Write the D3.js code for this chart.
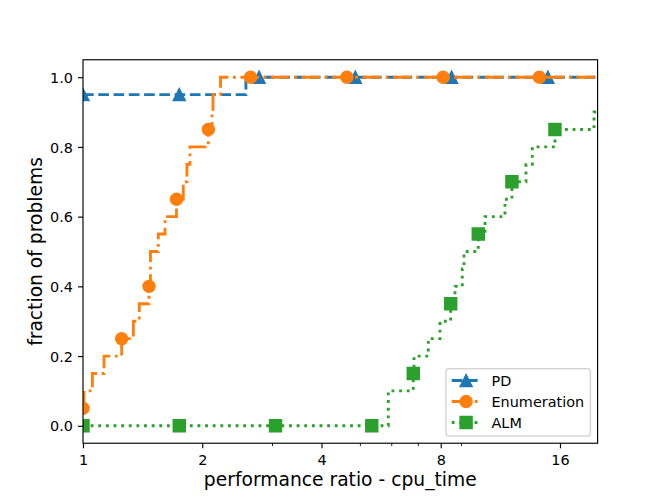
<!DOCTYPE html>
<html>
<head>
<meta charset="utf-8">
<script src="https://cdn.jsdelivr.net/npm/d3@7"></script>
<style>
  body { margin: 0; background: #fff; }
  svg { display: block; }
</style>
</head>
<body>
<script>
// solver names and the performance ratio of each of the 20 problems
var solvers = ["PD", "Enumeration", "ALM"];
var ratiosPD = [1, 1, 1, 1, 1, 1, 1, 1, 1, 1, 1, 1, 1, 1, 1, 1, 1, 1, 1, 2.578];
var ratiosEnum = [1, 1.006, 1.056, 1.130, 1.252, 1.340, 1.387, 1.468, 1.480, 1.480,
                  1.549, 1.611, 1.722, 1.791, 1.830, 1.862, 2.072, 2.117, 2.129, 2.224];
var ratiosALM = [5.898, 5.898, 6.820, 6.848, 7.441, 7.965, 8.476, 8.690, 9.067, 9.158,
                 9.951, 10.346, 11.62, 12.10, 13.13, 13.62, 15.54, 19.50, Infinity, Infinity];
var tauMax = 19.91;

// axis ticks
var xTicks = [1, 2, 4, 8, 16];
var xMinorTicks = [3, 5, 6, 7, 9];
var yTicks = [0, 0.2, 0.4, 0.6, 0.8, 1.0];

// styles (matplotlib look at ~104 dpi)
var colors = {PD: "#1f77b4", Enumeration: "#ff7f0e", ALM: "#2ca02c"};
var dashes = {PD: "10.66,4.61", Enumeration: "18.44,4.61,2.88,4.61", ALM: "2.88,4.75"};
var shapes = {PD: "triangle", Enumeration: "circle", ALM: "square"};
var ratios = {PD: ratiosPD, Enumeration: ratiosEnum, ALM: ratiosALM};

var W = 664, H = 498;
var L = 83, R = 597.6, T = 59.76, B = 443.22;
var font = "'DejaVu Sans', sans-serif";
var lw = 2.88, msize = 12, mew = 1.44;

var x = d3.scaleLog().base(2).domain([1, tauMax]).range([L, R]);
var y = d3.scaleLinear().domain([-0.05, 1.05]).range([B, T]);

var svg = d3.select("body")
	.append("svg")
	.attr("width", W)
	.attr("height", H);

svg.append("rect").attr("width", W).attr("height", H).attr("fill", "#fff");

svg.append("clipPath")
	.attr("id", "plotclip")
	.append("rect")
	.attr("x", L).attr("y", T)
	.attr("width", R - L).attr("height", B - T);

// profile: fraction of problems with ratio <= tau, as step points
function profile(rs) {
	var n = rs.length;
	var s = rs.slice().sort(d3.ascending);
	var pts = [[1, s.filter(function(r){ return r <= 1; }).length / n]];
	var uniq = Array.from(new Set(s.filter(function(r){ return r > 1 && r <= tauMax; })));
	uniq.forEach(function(r){
		pts.push([r, s.filter(function(v){ return v <= r; }).length / n]);
	});
	pts.push([tauMax, pts[pts.length - 1][1]]);
	return pts;
}

// markers evenly spaced along the drawn line (like markevery=0.15)
function markerSpots(pts) {
	var step = 0.15 * Math.hypot(R - L, B - T);
	var g = 1;
	var p = pts.map(function(d){ return [x(d[0]), y(d[1])]; });
	var tops = [{x: p[0][0], y: p[0][1], s: 0}], flats = [], cum = 0;
	for (var i = 1; i < p.length; i++) {
		var h = p[i][0] - p[i-1][0], v = Math.abs(p[i][1] - p[i-1][1]);
		flats.push({x0: p[i-1][0], y: p[i-1][1], s0: cum, len: h});
		cum += v > 0 ? Math.max(h - g, 0) + Math.hypot(Math.min(h, g), v) : h;
		tops.push({x: p[i][0], y: p[i][1], s: cum});
	}
	var spots = [];
	for (var t = 0; t <= cum; t += step) {
		var f = flats.find(function(f){ return f.len > step / 2 && t >= f.s0 && t <= f.s0 + f.len; });
		if (f) spots.push([f.x0 + t - f.s0, f.y]);
		else {
			var best = d3.least(tops, function(d){ return Math.abs(d.s - t); });
			spots.push([best.x, best.y]);
		}
	}
	return spots.filter(function(d, i){
		return i === 0 || d[0] !== spots[i-1][0] || d[1] !== spots[i-1][1];
	});
}

function markerPath(shape, s) {
	var h = s / 2;
	if (shape === "triangle") return "M0," + (-h) + "L" + (-h) + "," + h + "L" + h + "," + h + "Z";
	if (shape === "square") return "M" + (-h) + "," + (-h) + "h" + s + "v" + s + "h" + (-s) + "Z";
	return "M" + h + ",0A" + h + "," + h + " 0 1,1 " + (-h) + ",0A" + h + "," + h + " 0 1,1 " + h + ",0Z";
}

// x axis, major and minor ticks
var xAxis = svg.append("g")
	.attr("transform", "translate(0," + B + ")")
	.call(d3.axisBottom(x).tickValues(xTicks).tickFormat(d3.format("d")).tickSize(5.04).tickPadding(5.04));
xAxis.select(".domain").remove();
xAxis.attr("font-family", font).attr("font-size", 14.41);
xAxis.selectAll(".tick line").attr("stroke", "#000").attr("stroke-width", 1.15);
xAxis.selectAll(".tick text").attr("fill", "#000").attr("dy", null).attr("y", 21.8);

var xMinor = svg.append("g")
	.attr("transform", "translate(0," + B + ")")
	.call(d3.axisBottom(x).tickValues(xMinorTicks).tickFormat("").tickSize(2.88));
xMinor.select(".domain").remove();
xMinor.selectAll(".tick line").attr("stroke", "#000").attr("stroke-width", 0.86);

// y axis
var yAxis = svg.append("g")
	.attr("transform", "translate(" + L + ",0)")
	.call(d3.axisLeft(y).tickValues(yTicks).tickFormat(d3.format(".1f")).tickSize(5.04).tickPadding(5.04));
yAxis.select(".domain").remove();
yAxis.attr("font-family", font).attr("font-size", 14.41);
yAxis.selectAll(".tick line").attr("stroke", "#000").attr("stroke-width", 1.15);
yAxis.selectAll(".tick text").attr("fill", "#000").attr("dy", "0.36em");

// lines and markers
var line = d3.line()
	.x(function(d){ return x(d[0]); })
	.y(function(d){ return y(d[1]); })
	.curve(d3.curveStepAfter);

var plot = svg.append("g").attr("clip-path", "url(#plotclip)");
solvers.forEach(function(name){
	var pts = profile(ratios[name]);
	plot.append("path")
		.datum(pts)
		.attr("d", line)
		.attr("fill", "none")
		.attr("stroke", colors[name])
		.attr("stroke-width", lw)
		.attr("stroke-dasharray", dashes[name]);
	plot.selectAll(null)
		.data(markerSpots(pts))
		.enter()
		.append("path")
		.attr("transform", function(d){ return "translate(" + d[0] + "," + d[1] + ")"; })
		.attr("d", markerPath(shapes[name], msize))
		.attr("fill", colors[name])
		.attr("stroke", colors[name])
		.attr("stroke-width", mew);
});

// spines
svg.append("rect")
	.attr("x", L).attr("y", T)
	.attr("width", R - L).attr("height", B - T)
	.attr("fill", "none")
	.attr("stroke", "#000")
	.attr("stroke-width", 1.15);

// axis labels
svg.append("text")
	.attr("x", (L + R) / 2)
	.attr("y", 486)
	.attr("text-anchor", "middle")
	.attr("font-family", font)
	.attr("font-size", 18.7)
	.text("performance ratio - cpu_time");

svg.append("text")
	.attr("transform", "translate(41.5," + (T + B) / 2 + ") rotate(-90)")
	.attr("text-anchor", "middle")
	.attr("font-family", font)
	.attr("font-size", 18.7)
	.text("fraction of problems");

// legend, lower right
var legend = svg.append("g");
legend.append("rect")
	.attr("x", 445.9).attr("y", 368.7)
	.attr("width", 144.5).attr("height", 67.3)
	.attr("rx", 2.88)
	.attr("fill", "#fff").attr("fill-opacity", 0.8)
	.attr("stroke", "#ccc").attr("stroke-opacity", 0.8)
	.attr("stroke-width", 1.44);

solvers.forEach(function(name, i){
	var cy = 380.5 + i * 21;
	legend.append("line")
		.attr("x1", 451.7).attr("x2", 480.5)
		.attr("y1", cy).attr("y2", cy)
		.attr("stroke", colors[name])
		.attr("stroke-width", lw)
		.attr("stroke-dasharray", dashes[name]);
	legend.append("path")
		.attr("transform", "translate(466.1," + cy + ")")
		.attr("d", markerPath(shapes[name], msize))
		.attr("fill", colors[name])
		.attr("stroke", colors[name])
		.attr("stroke-width", mew);
	legend.append("text")
		.attr("x", 491.5)
		.attr("y", cy + 5.2)
		.attr("font-family", font)
		.attr("font-size", 14.41)
		.text(name);
});
</script>
</body>
</html>
